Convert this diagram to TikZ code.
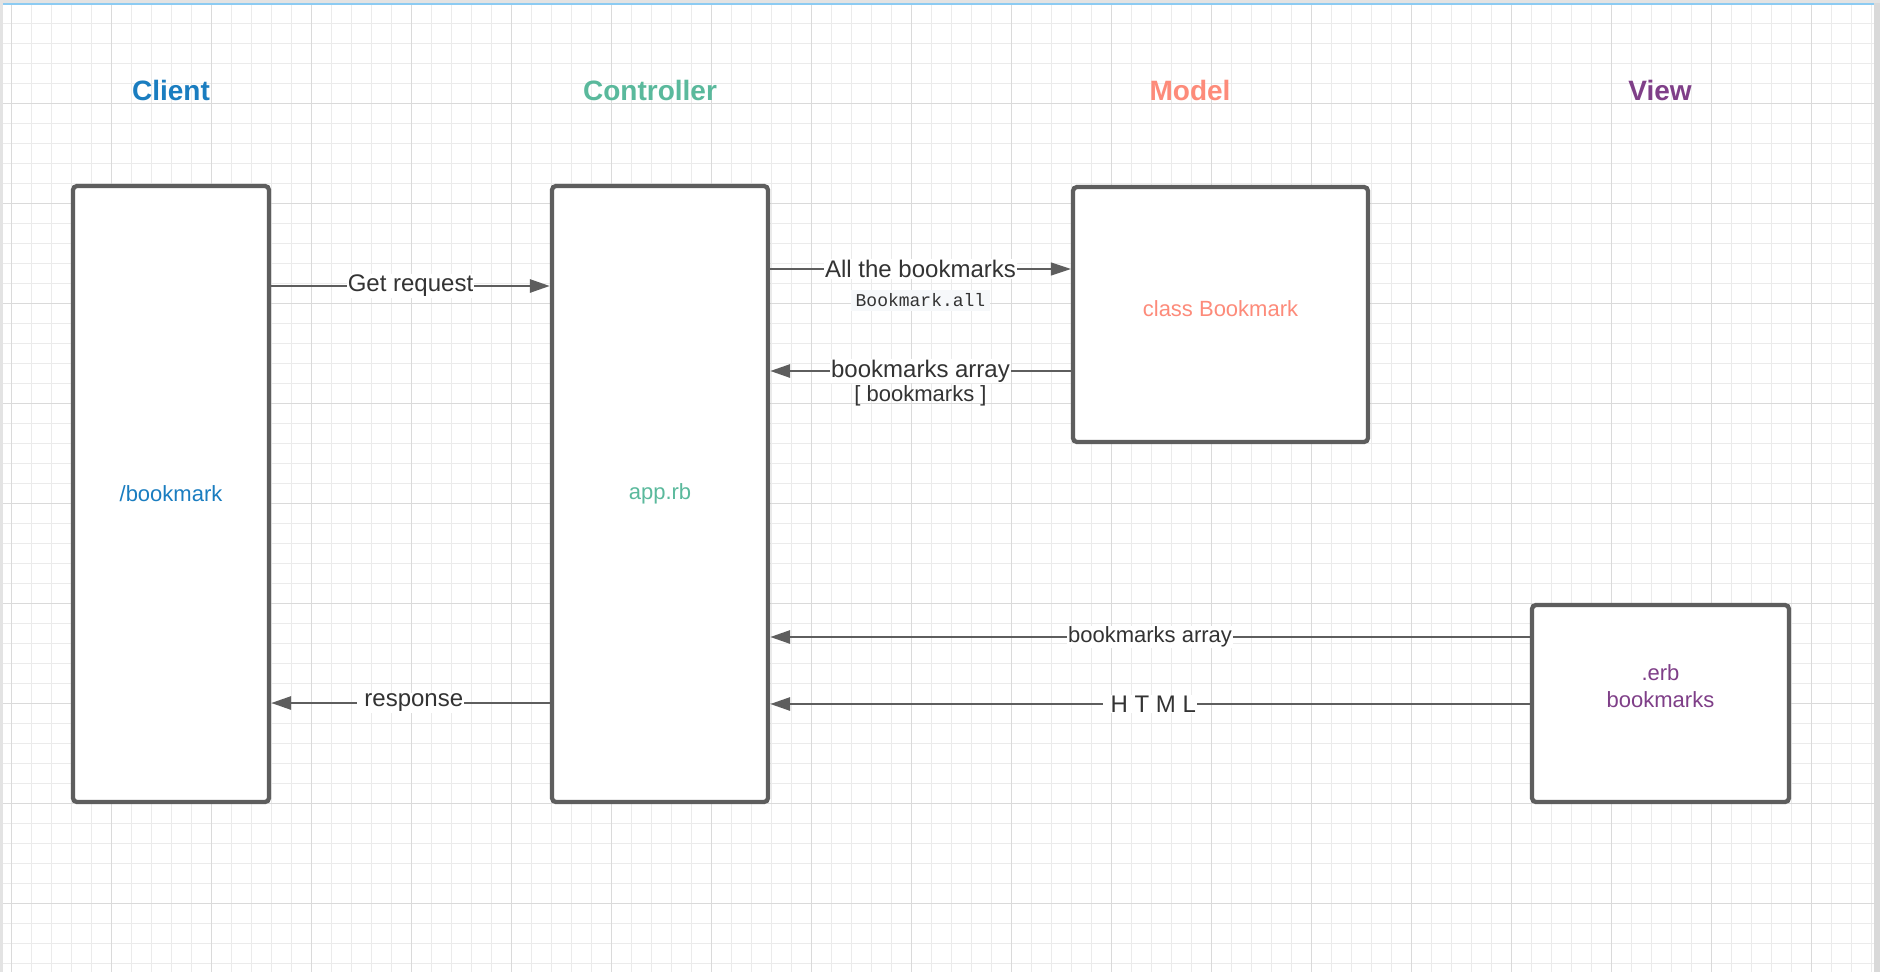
\documentclass[tikz,border=0pt]{standalone}
\usepackage{fontspec}
\setmainfont{Liberation Sans}
\setmonofont{Liberation Mono}
\usetikzlibrary{positioning,arrows.meta}
\definecolor{clientblue}{HTML}{1A7DC0}
\definecolor{ctrlgreen}{HTML}{5AB99C}
\definecolor{modelred}{HTML}{FD8B7A}
\definecolor{viewpurple}{HTML}{7F3F88}
\definecolor{linegray}{HTML}{5E5E5E}
\definecolor{textgray}{HTML}{333333}
\definecolor{minorgrid}{HTML}{EBEBEB}
\definecolor{majorgrid}{HTML}{DADADA}
\definecolor{codebg}{HTML}{F6F8FA}
\definecolor{topblue}{HTML}{8CCBF2}
\begin{document}
\begin{tikzpicture}[x=1pt,y=-1pt]
                \tikzstyle{box} = [rectangle, rounded corners=4pt, line width=4.3pt, draw=linegray, fill=white, inner sep=0pt, font=\fontsize{22}{26}\selectfont]
                \tikzstyle{title} = [anchor=base, font=\bfseries\fontsize{28}{33}\selectfont]
                \tikzstyle{arrow} = [line width=2.8pt, draw=linegray, ->, >={Triangle[length=20pt,width=13pt]}]
                \tikzstyle{msg} = [fill=white, inner xsep=1pt, inner ysep=1pt, text=textgray, font=\fontsize{24}{28}\selectfont]
                \tikzstyle{submsg} = [text=textgray, font=\fontsize{22}{26}\selectfont]
                \useasboundingbox (0,0) rectangle (1880,972);
                \fill [white] (0,0) rectangle (1880,972);
                % grid
                \foreach \x in {11.7,31.7,...,1871.7}
                    \draw [minorgrid, line width=1pt] (\x,5) -- (\x,972);
                \foreach \y in {23.3,43.3,...,963.3}
                    \draw [minorgrid, line width=1pt] (3,\y) -- (1874,\y);
                \foreach \x in {11.7,111.7,...,1811.7}
                    \draw [majorgrid, line width=1pt] (\x,5) -- (\x,972);
                \foreach \y in {103.3,203.3,...,903.3}
                    \draw [majorgrid, line width=1pt] (3,\y) -- (1874,\y);
                % frame
                \fill [gray!22] (0,0) rectangle (3,972);
                \fill [gray!22] (0,0) rectangle (1880,3.3);
                \fill [topblue] (3,3.3) rectangle (1874,5);
                \fill [gray!30] (1874,3.3) rectangle (1880,972);

                \node [title, text=clientblue] (clienttitle) at (171,100) {Client};
                \node [title, text=ctrlgreen] (ctrltitle) at (650,100) {Controller};
                \node [title, text=modelred] (modeltitle) at (1190,100) {Model};
                \node [title, text=viewpurple] (viewtitle) at (1660,100) {View};

                \node (client) [box, minimum width=196pt, minimum height=616pt, text=clientblue] at (171,494) {/bookmark};
                \node (ctrl) [box, minimum width=216pt, minimum height=616pt, text=ctrlgreen] at (660,494) {app.rb};
                \node (model) [box, minimum width=295pt, minimum height=255pt,
                    label={[text=modelred, font=\fontsize{22}{26}\selectfont, yshift=6pt]center:class Bookmark}] at (1220.5,314.5) {};
                \node (view) [box, minimum width=257pt, minimum height=197pt,
                    label={[text=viewpurple, align=center, font=\fontsize{22}{27}\selectfont, yshift=17pt]center:.erb\\bookmarks}] at (1660.5,703.5) {};

                \draw [arrow] (client.east |- 0,286) -- node [msg] (getreq) {Get request} (ctrl.west |- 0,286);
                \draw [arrow, line width=1.3pt] (ctrl.east |- 0,269) -- node [msg] (allbm) {All the bookmarks} (model.west |- 0,269);
                \node (bmall) [below=10pt of allbm, fill=codebg, inner xsep=4.5pt, inner ysep=4pt, text=textgray, font=\ttfamily\fontsize{18}{20}\selectfont] {Bookmark.all};
                \draw [arrow] (model.west |- 0,371) -- node [msg] (bmarray) {bookmarks array} (ctrl.east |- 0,371);
                \node (bmlist) [submsg, below=-3pt of bmarray] {[ bookmarks ]};
                \draw [arrow] (view.west |- 0,637) -- node [msg, font=\fontsize{22}{26}\selectfont] (viewarray) {bookmarks array} (ctrl.east |- 0,637);
                \draw [arrow] (view.west |- 0,704) -- node [msg] (html) {\ H T M L} (ctrl.east |- 0,704);
                \draw [arrow] (ctrl.west |- 0,703) -- node [msg] (resp) {\ response} (client.east |- 0,703);
\end{tikzpicture}
\end{document}
